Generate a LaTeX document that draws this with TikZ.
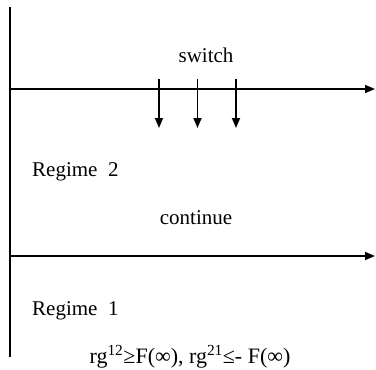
\documentclass[tikz,border=0pt]{standalone}
\usepackage{fontspec}
\setmainfont{Liberation Serif}
\usetikzlibrary{arrows.meta}
\tikzset{
  axisline/.style={line width=1.7pt, -{Triangle[length=10pt,width=8pt]}},
  plainline/.style={line width=1.7pt},
  drop/.style={line width=1.7pt, -{Triangle[length=10pt,width=8pt]}},
  lbl/.style={font=\fontsize{21}{25}\selectfont, inner sep=0pt, anchor=base},
}
\begin{document}
\begin{tikzpicture}[x=1pt,y=-1pt]
\useasboundingbox (0,0) rectangle (376,370);
% vertical axis
\coordinate (vtop) at (10,7);
\coordinate (vbot) at (10,357);
\draw[plainline] (vtop) -- (vbot);
% top line
\coordinate (t0) at (9.2,89);
\coordinate (t1) at (375,89);
\draw[axisline] (t0) -- (t1);
% bottom line
\coordinate (b0) at (9.2,256);
\coordinate (b1) at (375,256);
\draw[axisline] (b0) -- (b1);
% switch arrows
\foreach \i/\xx in {1/159,2/197.5,3/236}{
  \coordinate (s\i) at (\xx,79);
  \coordinate (e\i) at (\xx,128);
  \draw[drop] (s\i) -- (e\i);
}
% labels
\node[lbl] (sw) at (206,62) {switch};
\node[lbl, anchor=base west] (r2) at (32,176) {Regime\ \ 2};
\node[lbl] (cont) at (196,224) {continue};
\node[lbl, anchor=base west] (r1) at (32,315) {Regime\ \ 1};
\node[lbl, font=\fontsize{22}{26}\selectfont] (cond) at (190,363) {rg\textsuperscript{12}≥F(∞), rg\textsuperscript{21}≤- F(∞)};
\end{tikzpicture}
\end{document}
